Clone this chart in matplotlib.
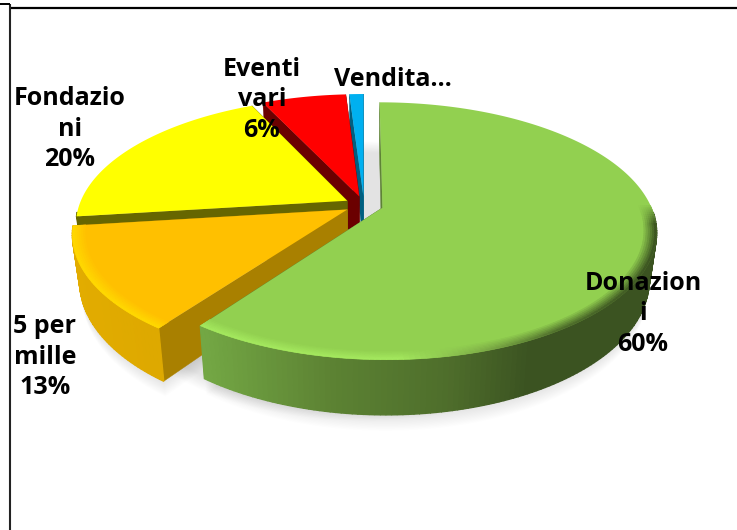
import numpy as np
import matplotlib
matplotlib.use("Agg")
import matplotlib.pyplot as plt
from matplotlib.colors import to_rgb

# ==========================================
# Data
# ==========================================

categories = ["Donazioni", "5 per mille", "Fondazioni", "Eventi vari", "Vendita"]
shares = [60, 13, 20, 6, 1]
wrapped_names = ["Donazion\ni", "5 per\nmille", "Fondazio\nni", "Eventi\nvari", "Vendita…"]
show_percent = [True, True, True, True, False]

# ==========================================
# Style and layout (pixels)
# ==========================================

CX, CY = 364, 205
RX, RY = 268, 123.5
PERSP = 0.18
HEIGHT = 45
EXPLODE = 0.072

top_colors = ["#92D050", "#FFC000", "#FFFF00", "#FF0000", "#00B0F0"]
side_colors = ["#5E8335", "#A98000", "#666600", "#6B0000", "#005F80"]
rim_stops = [
    [(204, "#73A744"), (330, "#5C8233"), (450, "#4E6D2B"), (530, "#3B5321"), (660, "#3B5321")],
    [(70, "#E2AC00"), (170, "#DDA800")],
    [(70, "#666600"), (350, "#666600")],
    [(260, "#6B0000"), (350, "#6B0000")],
    [(340, "#005F80"), (370, "#005F80")],
]
bevel_stops = [
    [(204, "#A4E85E"), (400, "#A4E85E"), (480, "#80B048"), (560, "#4E6D2B"), (660, "#3B5321")],
    [(70, "#FFD800"), (170, "#FFD800")],
    None, None, None,
]
label_pos = [(643, 314), (45, 357), (70, 129), (262, 100), (393, 79)]


def project(u, v, h=0.0):
    w = 1 - PERSP * v
    shrink = 1 - 0.025 * h / HEIGHT
    return CX + RX * u / w * shrink, CY + (RY * v + h) / w


def disc(a, r, off):
    # angle a is clockwise from the top, v grows towards the viewer
    return r * np.sin(a) + off[0], -r * np.cos(a) + off[1]


def color_at(stops, x):
    xs = [s[0] for s in stops]
    cols = np.array([to_rgb(s[1]) for s in stops])
    return np.array([np.interp(x, xs, cols[:, i]) for i in range(3)])


fig = plt.figure(figsize=(7.37, 5.30), dpi=100)
ax = fig.add_axes([0, 0, 1, 1])
ax.set_xlim(0, 737)
ax.set_ylim(530, 0)
ax.axis("off")

# frame of the original sheet
ax.plot([10, 737], [8, 8], color="black", lw=1.6, solid_capstyle="butt")
ax.plot([10, 10], [4, 530], color="#222222", lw=1.5, solid_capstyle="butt")
ax.plot([0, 10], [4, 4], color="black", lw=1.4, solid_capstyle="butt")

edges = np.cumsum([0] + shares) / sum(shares) * 2 * np.pi
slices = []
for i in range(len(shares)):
    mid = (edges[i] + edges[i + 1]) / 2
    off = (EXPLODE * np.sin(mid), -EXPLODE * np.cos(mid))
    angles = np.linspace(edges[i], edges[i + 1], max(int(np.degrees(edges[i + 1] - edges[i])), 2) + 1)
    slices.append((i, off, angles))

# ==========================================
# Soft shadow
# ==========================================

for d in range(0, 14):
    a = np.linspace(0, 2 * np.pi, 181)
    u, v = disc(a, 0.97, (0.0, 0.0))
    x, y = project(u, v, HEIGHT + d)
    ax.fill(x, y, color="black", alpha=0.006, lw=0)
    for i, off, angles in slices:
        u, v = disc(angles, 1.0, off)
        u = np.r_[off[0], u]
        v = np.r_[off[1], v]
        x, y = project(u, v, HEIGHT + d)
        ax.fill(x, y, color="black", alpha=0.009, lw=0)

# ==========================================
# Slices, back to front
# ==========================================

for i, off, angles in sorted(slices, key=lambda s: -s[0]):
    # radial walls
    for a in (angles[0], angles[-1]):
        u, v = disc(a, 1.0, off)
        x0, y0 = project(off[0], off[1])
        x1, y1 = project(off[0], off[1], HEIGHT)
        x2, y2 = project(u, v, HEIGHT)
        x3, y3 = project(u, v)
        ax.fill([x0, x1, x2, x3], [y0, y1, y2, y3], color=side_colors[i], lw=0.3)

    # outer wall, the back part is hidden by the top face anyway
    for a0, a1 in zip(angles[:-1], angles[1:]):
        u, v = disc(np.array([a0, a1]), 1.0, off)
        if v.mean() < 0.05:
            continue
        xt, yt = project(u, v)
        xb, yb = project(u, v, HEIGHT)
        c = color_at(rim_stops[i], xt.mean())
        ax.fill([xt[0], xt[1], xb[1], xb[0]], [yt[0], yt[1], yb[1], yb[0]], color=c, lw=1.0)

    # top face
    u, v = disc(angles, 1.0, off)
    u = np.r_[off[0], u]
    v = np.r_[off[1], v]
    x, y = project(u, v)
    ax.fill(x, y, color=top_colors[i], lw=0)

    # rounded rim
    if bevel_stops[i] is not None:
        rings = np.linspace(0.955, 1.0, 7)
        top = np.array(to_rgb(top_colors[i]))
        for k, (r0, r1) in enumerate(zip(rings[:-1], rings[1:])):
            f = (k + 1) / 6
            for a0, a1 in zip(angles[:-1], angles[1:]):
                pair = np.array([a0, a1])
                u0, v0 = disc(pair, r0, off)
                u1, v1 = disc(pair, r1, off)
                if v1.mean() < 0.0:
                    continue
                xa, ya = project(u0, v0)
                xb, yb = project(u1, v1)
                amount = np.clip(v1.mean() / 0.15, 0, 1) * f
                c = top + (color_at(bevel_stops[i], xb.mean()) - top) * amount
                ax.fill([xa[0], xa[1], xb[1], xb[0]], [ya[0], ya[1], yb[1], yb[0]], color=c, lw=0.4)

# ==========================================
# Labels
# ==========================================

for name, val, show, pos in zip(wrapped_names, shares, show_percent, label_pos):
    txt = f"{name}\n{val}%" if show else name
    ax.text(pos[0], pos[1], txt, ha="center", va="center", fontsize=18,
            fontweight="bold", family="Open Sans", color="black", linespacing=1.3, zorder=10)

fig.savefig("out.png", dpi=100)
